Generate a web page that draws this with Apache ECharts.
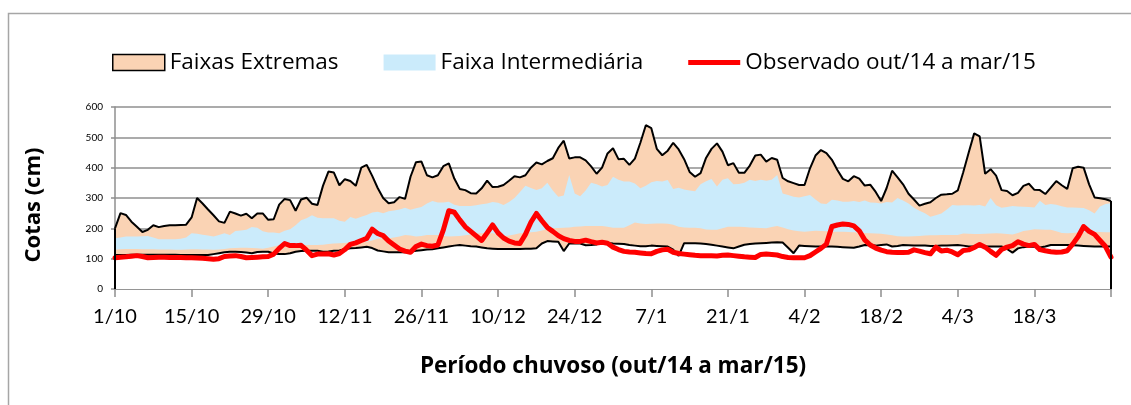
<!DOCTYPE html>
<html>
<head>
<meta charset="utf-8">
<script src="https://cdn.jsdelivr.net/npm/echarts@6/dist/echarts.min.js"></script>
<style>
  html, body { margin: 0; padding: 0; background: #fff; }
  #chart { width: 1131px; height: 405px; }
</style>
</head>
<body>
<div id="chart"></div>
<script>
// dias de 1/10/2014 a 1/4/2015 (um ponto por dia)
const monthDays = [[10, 31], [11, 30], [12, 31], [1, 31], [2, 28], [3, 31], [4, 1]];
const days = [];
monthDays.forEach(([m, n]) => {
  for (let d = 1; d <= n; d++) days.push(d + '/' + m);
});

// faixa extrema superior (máximas)
const maxVals = [
  200, 250, 244, 222, 205, 188, 195, 210, 204, 208, 210, 210, 211, 212,
  236, 300, 282, 262, 243, 223, 218, 255, 249, 242, 248, 233, 249, 249,
  228, 230, 278, 297, 293, 258, 295, 301, 281, 277, 340, 387, 384, 342,
  362, 356, 340, 400, 409, 373, 333, 300, 283, 286, 303, 297, 370, 418,
  420, 375, 368, 375, 405, 414, 364, 330, 326, 316, 315, 332, 357, 336,
  337, 343, 357, 372, 368, 375, 400, 417, 411, 422, 431, 465, 489, 430,
  434, 434, 424, 404, 380, 400, 447, 464, 428, 429, 409, 430, 482, 540,
  530, 462, 441, 456, 482, 460, 428, 386, 370, 382, 432, 462, 480, 453,
  408, 415, 383, 383, 407, 440, 443, 420, 432, 426, 366, 355, 349, 343,
  343, 398, 440, 458, 448, 426, 392, 363, 355, 372, 364, 341, 344, 320,
  290, 333, 390, 368, 345, 314, 295, 275, 281, 286, 300, 311, 312, 314,
  325, 385, 450, 513, 503, 380, 395, 374, 326, 323, 309, 317, 340, 347,
  327, 326, 313, 334, 356, 342, 330, 398, 403, 400, 345, 302, 299, 296,
  290
];

// faixa intermediária - limite superior
const upperInt = [
  167, 170, 173, 173, 173, 174, 175, 170, 164, 164, 164, 164, 166, 170,
  184, 182, 179, 176, 173, 178, 184, 178, 191, 193, 195, 204, 202, 190,
  186, 186, 184, 192, 197, 210, 227, 233, 243, 235, 233, 233, 233, 225,
  222, 237, 232, 238, 244, 252, 255, 250, 256, 259, 262, 268, 261, 266,
  270, 282, 290, 285, 285, 288, 278, 274, 274, 274, 276, 279, 282, 287,
  284, 277, 287, 300, 320, 340, 333, 326, 332, 350, 325, 304, 308, 376,
  315, 306, 325, 350, 345, 338, 343, 370, 360, 354, 354, 348, 332, 340,
  352, 356, 354, 359, 330, 334, 328, 325, 322, 345, 355, 363, 338, 360,
  365, 345, 346, 350, 360, 356, 360, 357, 360, 376, 315, 310, 304, 302,
  306, 310, 295, 282, 280, 294, 292, 288, 288, 290, 287, 292, 285, 284,
  282, 287, 285, 300, 292, 282, 268, 258, 250, 238, 243, 249, 262, 277,
  275, 276, 276, 275, 277, 272, 300, 276, 268, 270, 274, 272, 271, 270,
  269, 291, 277, 280, 278, 273, 269, 269, 268, 267, 260, 249, 272, 280,
  283
];

// faixa intermediária - limite inferior
const lowerInt = [
  129, 131, 132, 132, 132, 131, 131, 131, 130, 130, 130, 129, 129, 130,
  131, 131, 130, 130, 129, 130, 132, 134, 135, 136, 136, 135, 134, 133,
  136, 140, 144, 146, 147, 146, 145, 145, 145, 145, 146, 148, 150, 151,
  152, 154, 156, 156, 156, 160, 166, 167, 167, 170, 173, 178, 176, 173,
  175, 178, 178, 178, 175, 173, 174, 175, 177, 180, 183, 184, 184, 184,
  180, 175, 176, 180, 184, 185, 187, 189, 193, 197, 200, 201, 202, 203,
  205, 206, 208, 208, 208, 208, 205, 202, 202, 202, 210, 219, 216, 214,
  215, 216, 216, 215, 212, 205, 203, 202, 202, 200, 196, 195, 195, 200,
  205, 205, 205, 204, 203, 202, 201, 200, 204, 208, 203, 197, 193, 190,
  189, 190, 192, 191, 190, 189, 189, 189, 188, 187, 186, 185, 184, 183,
  182, 180, 177, 174, 173, 173, 174, 175, 176, 177, 177, 178, 178, 178,
  178, 183, 182, 181, 181, 182, 183, 184, 183, 181, 180, 185, 191, 194,
  197, 196, 195, 195, 190, 185, 184, 185, 186, 187, 188, 189, 188, 187,
  187
];

// faixa extrema inferior (mínimas)
const minVals = [
  112, 112, 112, 113, 113, 113, 113, 113, 113, 113, 113, 113, 112, 112,
  112, 112, 112, 112, 115, 118, 121, 123, 123, 122, 120, 118, 122, 123,
  123, 117, 115, 115, 118, 123, 125, 126, 126, 126, 123, 124, 126, 127,
  131, 134, 135, 137, 139, 135, 127, 124, 121, 121, 121, 121, 123, 126,
  128, 130, 131, 134, 137, 140, 143, 145, 143, 141, 140, 137, 134, 133,
  132, 132, 132, 132, 132, 133, 133, 134, 150, 158, 157, 156, 125, 150,
  151, 150, 144, 145, 147, 154, 152, 150, 149, 148, 145, 143, 141, 141,
  143, 142, 141, 140, 130, 109, 151, 151, 151, 150, 148, 146, 143, 140,
  137, 134, 140, 146, 148, 150, 151, 152, 153, 154, 153, 136, 118, 143,
  142, 141, 140, 140, 140, 140, 139, 138, 137, 136, 140, 145, 144, 143,
  145, 147, 140, 142, 145, 144, 143, 143, 143, 142, 142, 143, 143, 144,
  145, 143, 140, 140, 140, 140, 140, 140, 140, 132, 120, 134, 138, 140,
  139, 137, 140, 145, 145, 145, 145, 144, 143, 142, 141, 140, 140, 140,
  140
];

// observado out/14 a mar/15
const observed = [
  103, 105, 106, 108, 110, 107, 103, 104, 105, 105, 104, 104, 104, 103,
  103, 102, 101, 100, 98, 100, 107, 109, 110, 107, 103, 104, 105, 106,
  107, 115, 134, 150, 143, 143, 144, 128, 110, 115, 115, 116, 112, 117,
  130, 147, 152, 160, 167, 197, 183, 176, 158, 145, 132, 125, 121, 140,
  148, 143, 141, 145, 195, 258, 253, 228, 205, 190, 175, 160, 185, 211,
  185, 168, 158, 152, 150, 180, 220, 249, 225, 203, 190, 176, 166, 160,
  157, 157, 161, 156, 152, 154, 151, 138, 130, 124, 122, 121, 119, 117,
  116, 124, 129, 131, 121, 117, 115, 113, 111, 110, 110, 110, 109, 111,
  112, 110, 108, 106, 105, 104, 114, 115, 114, 112, 107, 104, 103, 103,
  103, 110, 122, 134, 148, 206, 211, 214, 213, 208, 192, 162, 145, 135,
  128, 123, 121, 120, 120, 121, 129, 125, 120, 116, 138, 125, 128, 122,
  113, 127, 129, 137, 147, 138, 124, 111, 130, 138, 143, 156, 148, 143,
  147, 130, 126, 123, 121, 122, 126, 148, 173, 206, 190, 180, 160, 140,
  105
];

const peach = '#FAD3B4';
const blue = '#CBEBFB';
const gray = '#8f8f8f';
const font = 'Lato, "Liberation Sans", sans-serif';
const titleFont = '"Open Sans", Lato, sans-serif';
const last = days.length - 1;

let myChart = echarts.init(document.getElementById('chart'));

let option = {
  animation: false,
  backgroundColor: '#fff',
  textStyle: { fontFamily: font, color: '#000' },
  graphic: [{
    type: 'rect',
    shape: { x: 8.5, y: 13.5, width: 1200, height: 500 },
    style: { fill: 'none', stroke: '#a6a6a6', lineWidth: 1.5 },
    silent: true,
  }],
  legend: {
    left: 107,
    top: 46,
    itemWidth: 52,
    itemHeight: 16,
    itemGap: 45,
    textStyle: { fontSize: 22.5, fontFamily: titleFont, color: '#000' },
    data: [
      { name: 'Faixas Extremas', icon: 'rect', itemStyle: { color: peach, borderColor: '#000', borderWidth: 1.5 } },
      { name: 'Faixa Intermediária', icon: 'rect', itemStyle: { color: blue, borderWidth: 0 } },
      { name: 'Observado out/14 a mar/15', icon: 'path://M0,0 L54,0 L54,5 L0,5 Z', itemStyle: { color: '#ff0000' } },
    ],
  },
  grid: {
    left: 115,
    right: 20,
    top: 107,
    bottom: 116,
    outerBoundsMode: 'none',
  },
  xAxis: {
    type: 'category',
    data: days,
    boundaryGap: false,
    name: 'Período chuvoso (out/14 a mar/15)',
    nameLocation: 'middle',
    nameGap: 66,
    nameTextStyle: { fontSize: 22.5, fontWeight: 'bold', fontFamily: titleFont, color: '#000' },
    axisLine: { lineStyle: { color: gray, width: 1.5 } },
    axisTick: {
      length: 8,
      interval: (idx) => idx % 14 === 0,
      lineStyle: { color: gray, width: 1.5 },
    },
    axisLabel: {
      interval: (idx) => idx % 14 === 0 && idx < last,
      fontSize: 20,
      color: '#000',
      margin: 18,
    },
    splitLine: { show: false },
  },
  yAxis: {
    type: 'value',
    min: 0,
    max: 600,
    interval: 100,
    name: 'Cotas (cm)',
    nameLocation: 'middle',
    nameGap: 70,
    nameTextStyle: { fontSize: 22, fontWeight: 'bold', fontFamily: titleFont, color: '#000', padding: [0, 14, 0, 0] },
    axisLine: { show: true, lineStyle: { color: gray, width: 1.5 } },
    axisTick: { show: true, length: 4, lineStyle: { color: gray, width: 1.5 } },
    axisLabel: { fontSize: 10, color: '#000', margin: 12 },
    splitLine: { lineStyle: { color: gray, width: 1.5 } },
  },
  series: [
    {
      name: 'Faixas Extremas',
      type: 'line',
      data: maxVals,
      symbol: 'none',
      lineStyle: { color: '#000', width: 2 },
      itemStyle: { color: peach },
      areaStyle: { color: peach, opacity: 1 },
    },
    {
      name: 'Faixa Intermediária',
      type: 'line',
      data: upperInt,
      symbol: 'none',
      lineStyle: { width: 0 },
      itemStyle: { color: blue },
      areaStyle: { color: blue, opacity: 1 },
    },
    {
      name: 'Faixas Extremas',
      type: 'line',
      data: lowerInt,
      symbol: 'none',
      lineStyle: { width: 0 },
      itemStyle: { color: peach },
      areaStyle: { color: peach, opacity: 1 },
    },
    {
      name: 'min',
      type: 'line',
      data: minVals,
      symbol: 'none',
      lineStyle: { color: '#000', width: 2 },
      areaStyle: { color: '#fff', opacity: 1 },
      // bordas verticais da área extrema nas pontas
      markLine: {
        silent: true,
        symbol: ['none', 'none'],
        label: { show: false },
        lineStyle: { color: '#000', width: 2, type: 'solid' },
        data: [
          [{ coord: [days[0], 0] }, { coord: [days[0], maxVals[0]] }],
          [{ coord: [days[last], 0] }, { coord: [days[last], maxVals[last]] }],
        ],
      },
    },
    {
      name: 'Observado out/14 a mar/15',
      type: 'line',
      data: observed,
      symbol: 'none',
      lineStyle: { color: '#ff0000', width: 5, cap: 'round', join: 'round' },
      itemStyle: { color: '#ff0000' },
    },
  ],
};

myChart.setOption(option);
</script>
</body>
</html>
